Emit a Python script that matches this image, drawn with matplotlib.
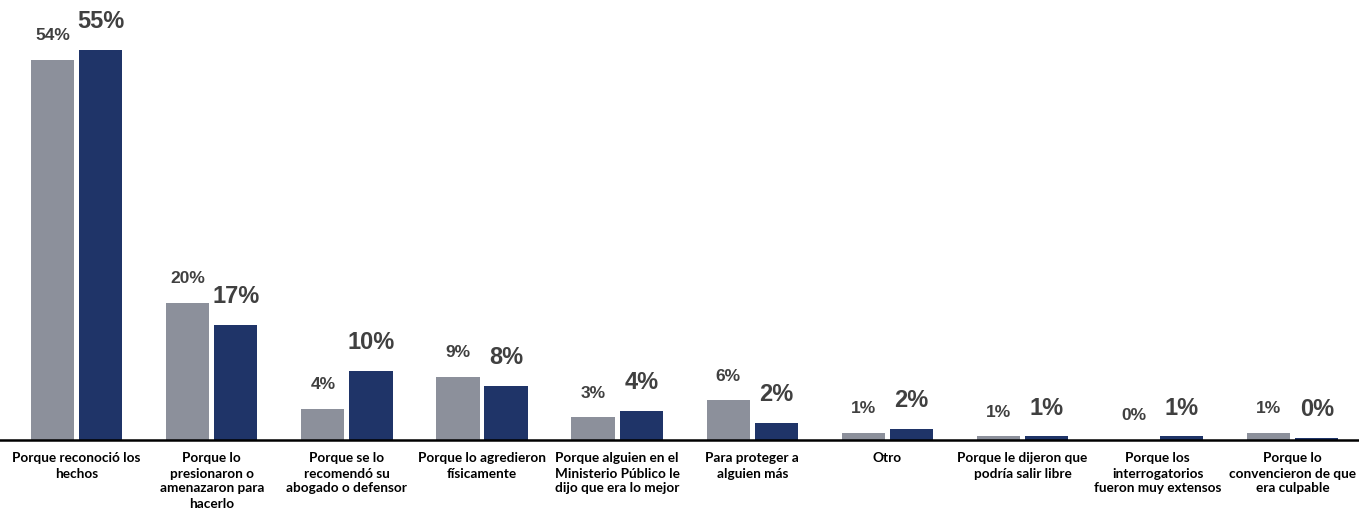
import numpy as np
import matplotlib.pyplot as plt

categorias = [
    "Porque reconoció los\nhechos",
    "Porque lo\npresionaron o\namenazaron para\nhacerlo",
    "Porque se lo\nrecomendó su\nabogado o defensor",
    "Porque lo agredieron\nfísicamente",
    "Porque alguien en el\nMinisterio Público le\ndijo que era lo mejor",
    "Para proteger a\nalguien más",
    "Otro",
    "Porque le dijeron que\npodría salir libre",
    "Porque los\ninterrogatorios\nfueron muy extensos",
    "Porque lo\nconvencieron de que\nera culpable",
]
serie_gris = [53.6, 19.3, 4.4, 8.9, 3.2, 5.6, 1.0, 0.5, 0.0, 1.0]
serie_azul = [55.0, 16.2, 9.7, 7.6, 4.1, 2.4, 1.55, 0.5, 0.5, 0.3]
etiquetas_gris = ["54%", "20%", "4%", "9%", "3%", "6%", "1%", "1%", "0%", "1%"]
etiquetas_azul = ["55%", "17%", "10%", "8%", "4%", "2%", "2%", "1%", "1%", "0%"]

gris = "#8c909b"
azul = "#1f3468"
texto = "#404040"

fig = plt.figure(figsize=(13.59, 5.12), dpi=100)
ax = fig.add_axes([0, 72 / 512, 1, 440 / 512])

x = np.arange(len(categorias))
ancho = 0.32
off = 0.178
b1 = ax.bar(x - off, serie_gris, ancho, color=gris)
b2 = ax.bar(x + off, serie_azul, ancho, color=azul)

for barra, lab in zip(b1, etiquetas_gris):
    ax.annotate(lab, (barra.get_x() + barra.get_width() / 2, barra.get_height()),
                xytext=(0, 12), textcoords="offset points", ha="center", va="bottom",
                fontsize=12.5, fontweight="bold", color=texto, family="Liberation Sans")
for barra, lab in zip(b2, etiquetas_azul):
    ax.annotate(lab, (barra.get_x() + barra.get_width() / 2, barra.get_height()),
                xytext=(0, 12), textcoords="offset points", ha="center", va="bottom",
                fontsize=17, fontweight="bold", color=texto, family="Liberation Sans")

ax.set_xlim(-0.567, 9.49)
ax.set_ylim(0, 62)
ax.set_xticks(x)
ax.set_xticklabels(categorias, fontsize=9.8, fontweight="bold", family="Lato",
                   linespacing=1.3, va="top")
ax.tick_params(axis="x", length=0, pad=9)
ax.set_yticks([])
for s in ["top", "left", "right"]:
    ax.spines[s].set_visible(False)
ax.spines["bottom"].set_linewidth(1.8)
ax.spines["bottom"].set_color("black")

fig.savefig("out.png", dpi=100)
